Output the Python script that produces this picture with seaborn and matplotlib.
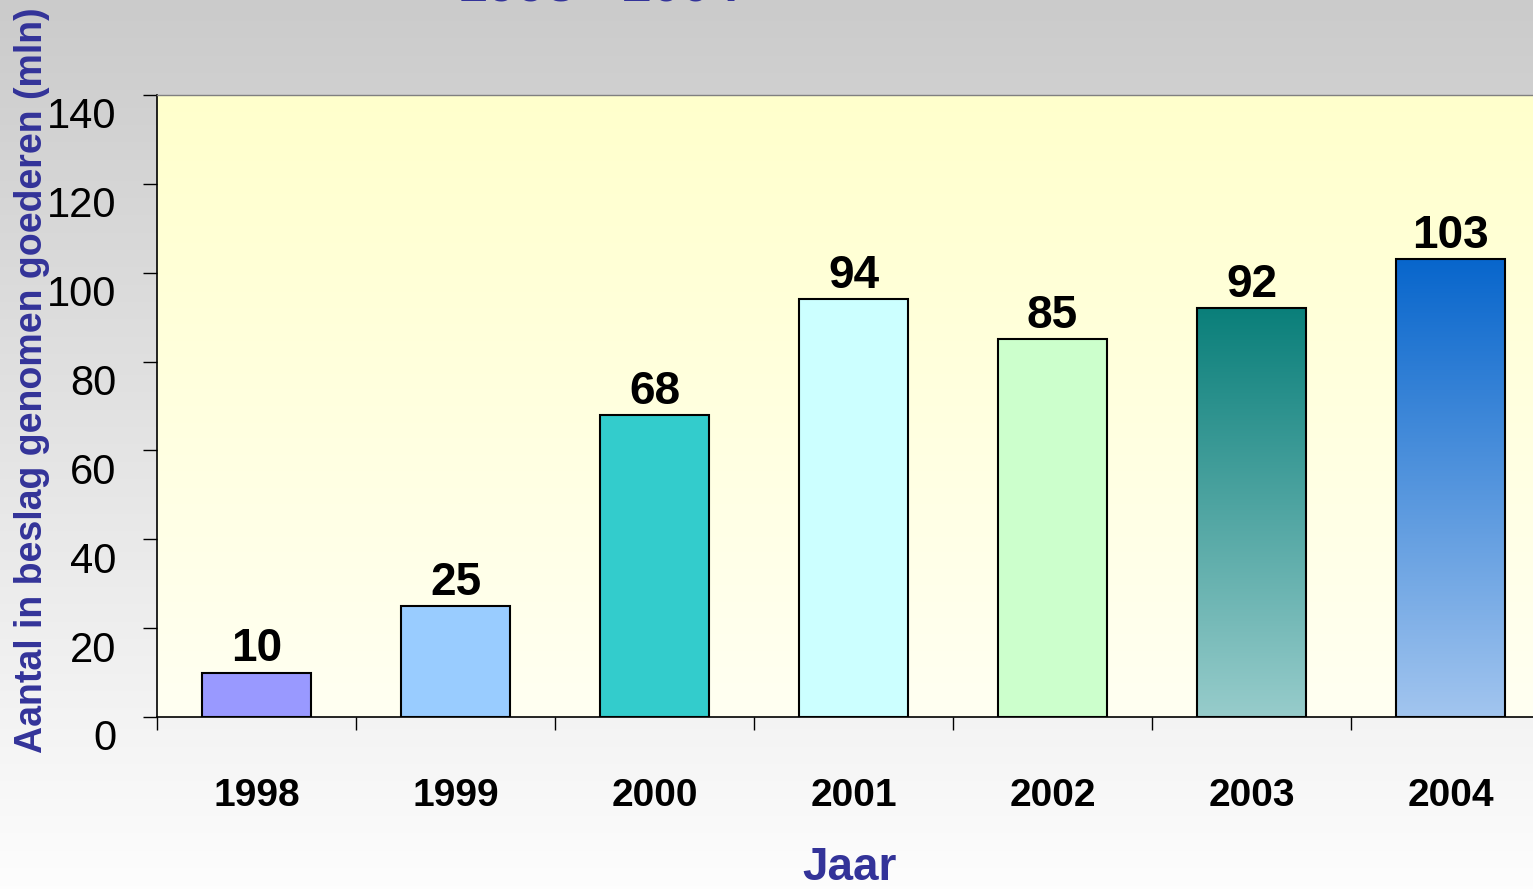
import numpy as np
import pandas as pd
import matplotlib
matplotlib.use("Agg")
import matplotlib.pyplot as plt
import seaborn as sns
from matplotlib.colors import LinearSegmentedColormap
from matplotlib.transforms import ScaledTranslation

# data
years = ["1998", "1999", "2000", "2001", "2002", "2003", "2004"]
counts = [10, 25, 68, 94, 85, 92, 103]
bar_colors = ["#9999ff", "#99ccff", "#33cccc", "#ccffff", "#ccffcc", "#4a9e9c", "#4f8ad8"]
# top -> bottom gradient for the last two bars
gradient_bars = {"2003": ("#0a7f7a", "#97cccb"), "2004": ("#0866cc", "#a2c5ef")}

title = "1998 - 2004"
xlabel = "Jaar"
ylabel = "Aantal in beslag genomen goederen (mln)"
label_blue = "#333399"

sns.set_style("white")
plt.rcParams["font.family"] = ["Liberation Sans", "DejaVu Sans"]
plt.rcParams["text.color"] = "black"
plt.rcParams["xtick.color"] = "black"
plt.rcParams["ytick.color"] = "black"

fig = plt.figure(figsize=(15.33, 8.89), dpi=100)

# figure background gradient (grey at top, almost white at bottom)
bg = fig.add_axes([0, 0, 1, 1], zorder=-10)
bg.imshow(np.linspace(0, 1, 256).reshape(-1, 1), aspect="auto", extent=[0, 1, 0, 1],
          cmap=LinearSegmentedColormap.from_list("bg", ["#cbcbcb", "#fdfdfd"]))
bg.axis("off")

# title sits mostly above the visible area, as in the reference
fig.text(458 / 1533, 1 - 1 / 889, title, ha="left", va="baseline",
         fontsize=38, fontweight="bold", color=label_blue)

ax = fig.add_axes([157 / 1533, 1 - 717 / 889, 1393 / 1533, 622 / 889])
ax.set_facecolor("none")
ax.imshow(np.linspace(0, 1, 256).reshape(-1, 1), aspect="auto", extent=[0, 1, 0, 1],
          transform=ax.transAxes, zorder=-1,
          cmap=LinearSegmentedColormap.from_list("plotbg", ["#ffffcc", "#fffff2"]))

df = pd.DataFrame({"Jaar": years, "Aantal": counts})
sns.barplot(data=df, x="Jaar", y="Aantal", hue="Jaar", palette=bar_colors, legend=False,
            saturation=1, width=0.55, edgecolor="black", linewidth=1.5, ax=ax)

# gradient fills for 2003 and 2004
for i, yr in enumerate(years):
    if yr not in gradient_bars:
        continue
    bar = ax.containers[i].patches[0]
    top_c, bot_c = gradient_bars[yr]
    x0, w, h = bar.get_x(), bar.get_width(), bar.get_height()
    im = ax.imshow(np.linspace(0, 1, 256).reshape(-1, 1), aspect="auto",
                   extent=[x0, x0 + w, 0, h], zorder=bar.get_zorder() - 0.5,
                   cmap=LinearSegmentedColormap.from_list("g" + yr, [top_c, bot_c]))
    im.set_clip_path(bar)
    bar.set_facecolor("none")

ax.set_xlim(-0.5, len(years) - 0.5)
ax.set_ylim(0, 140)
ax.set_yticks(range(0, 141, 20))

for i, v in enumerate(counts):
    ax.annotate(str(v), (i, v), xytext=(0, 8), textcoords="offset points",
                ha="center", va="baseline", fontsize=33, fontweight="bold", color="black")

# axes styling
for s in ["left", "bottom"]:
    ax.spines[s].set_color("black")
    ax.spines[s].set_linewidth(1.2)
ax.spines["top"].set_color("#808080")
ax.spines["top"].set_linewidth(1.0)
ax.spines["right"].set_visible(False)

ax.tick_params(axis="y", direction="out", length=10, width=1, color="black",
               labelsize=30, pad=19, left=True, labelcolor="black")
ax.set_xticks(np.arange(-0.5, len(years), 1), minor=True)
ax.tick_params(axis="x", which="major", length=0, pad=44, labelsize=28, labelcolor="black")
ax.tick_params(axis="x", which="minor", direction="out", length=9, width=1,
               color="black", bottom=True)
for t in ax.get_xticklabels():
    t.set_fontweight("bold")
for t in ax.get_yticklabels():
    t.set_transform(t.get_transform() + ScaledTranslation(0, -18 / 100, fig.dpi_scale_trans))

ax.set_xlabel(xlabel, fontsize=33, fontweight="bold", color=label_blue, va="center")
ax.xaxis.set_label_coords((850 - 157) / 1393, (717 - 868) / 622)
ax.set_ylabel(ylabel, fontsize=27, fontweight="bold", color=label_blue, va="center")
ax.yaxis.set_label_coords((32 - 157) / 1393, (717 - 380) / 622)

fig.savefig("out.png", dpi=100)
